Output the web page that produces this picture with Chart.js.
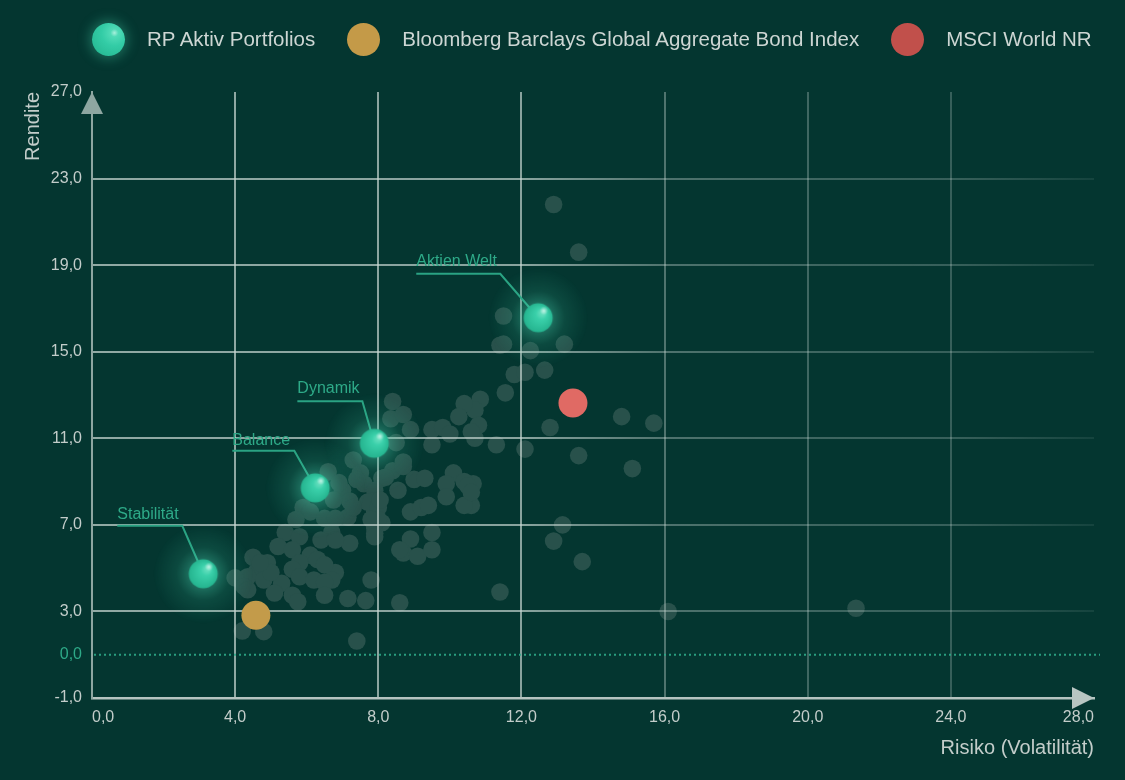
<!DOCTYPE html>
<html lang="de">
<head>
    <meta charset="UTF-8">
    <title>Rendite / Risiko – RP Aktiv Portfolios</title>
    <script src="https://cdn.jsdelivr.net/npm/chart.js"></script>
    <style>
        body {
            margin: 0;
            background-color: #043630;
            font-family: 'Liberation Sans', Arial, sans-serif;
        }
        .wrap {
            position: relative;
            width: 1125px;
            height: 780px;
            overflow: hidden;
        }
        #chart {
            position: absolute;
            left: 0;
            top: 0;
        }
        .legend {
            position: absolute;
            left: 0;
            top: 22px;
            height: 34px;
            padding-left: 92px;
            display: flex;
            align-items: center;
            font-size: 20.5px;
            color: #cdd6d3;
            z-index: 2;
        }
        .legend .item {
            display: flex;
            align-items: center;
            margin-right: 32px;
            white-space: nowrap;
        }
        .legend .dot {
            width: 33px;
            height: 33px;
            border-radius: 50%;
            margin-right: 22px;
        }
        .legend .dot.glow {
            background: radial-gradient(circle at 68% 30%, #a8f0dc 0, #4fdab6 12%, #33cca6 40%, #22b28c 100%);
            box-shadow: 0 0 12px 3px rgba(70, 210, 170, 0.35);
        }
    </style>
</head>
<body>
    <div class="wrap">
        <div class="legend" id="legend"></div>
        <canvas id="chart" width="1125" height="780"></canvas>
    </div>

    <script>
        // RP Aktiv Portfolios
        const portfolioNames = ['Stabilität', 'Balance', 'Dynamik', 'Aktien Welt'];
        const portfolioRisk = [3.11, 6.24, 7.89, 12.47];
        const portfolioReturn = [4.74, 8.71, 10.77, 16.57];

        // Benchmarks
        const bondRisk = [4.58];
        const bondReturn = [2.73];
        const msciRisk = [13.44];
        const msciReturn = [12.63];

        // Vergleichsgruppe (graue Punkte)
        const peerRisk = [
            12.9, 13.6, 11.5, 11.4, 11.5, 12.25, 13.2, 11.8, 12.1, 12.65, 11.55, 10.85, 10.7, 10.8, 10.7,
            11.3, 12.1, 12.8, 14.8, 15.7, 13.6, 15.1, 10.65, 10.6, 13.15, 12.9, 13.7, 11.4, 16.1, 21.35,
            8.4, 10.4, 10.25, 8.35, 8.7, 8.9, 9.5, 9.8, 10.0, 9.5, 10.6, 8.5, 7.3, 8.7, 8.4, 7.5, 7.6,
            8.1, 9.0, 9.3, 10.1, 9.9, 10.4, 10.5, 9.9, 8.55, 10.4, 8.9, 9.2, 9.4, 7.9, 7.0, 7.2, 7.15,
            7.9, 8.1, 6.7, 7.2, 7.9, 8.9, 9.5, 8.7, 9.1, 9.5, 6.8, 6.7, 7.8, 7.15, 7.65, 8.6, 7.4,
            6.6, 6.9, 8.2, 8.7, 7.9, 7.7, 7.3, 5.9, 6.1, 5.7, 6.5, 6.8, 8.0, 8.0, 7.9, 5.4, 5.8, 6.4,
            6.8, 5.2, 5.6, 6.1, 6.3, 4.5, 4.9, 5.8, 6.5, 5.6, 5.8, 6.2, 6.5, 4.6, 4.35, 4.0, 5.3, 5.1,
            5.6, 5.75, 6.5, 8.6, 4.25, 4.2, 4.8, 4.35, 4.8, 5.0,
            7.4, 10.6, 8.05, 7.8, 6.75, 4.7
        ];
        const peerReturn = [
            21.8, 19.6, 16.65, 15.3, 15.35, 15.05, 15.35, 13.95, 14.05, 14.15, 13.1, 12.8, 12.3, 11.6, 11.0,
            10.7, 10.5, 11.5, 12.0, 11.7, 10.2, 9.6, 8.9, 7.9, 7.0, 6.25, 5.3, 3.9, 3.0, 3.15,
            12.7, 12.6, 12.0, 11.9, 12.1, 11.4, 11.4, 11.5, 11.2, 10.7, 11.3, 10.8, 10.0, 9.9, 9.5, 9.4, 8.9,
            9.15, 9.1, 9.15, 9.4, 8.9, 9.0, 8.8, 8.3, 8.6, 7.9, 7.6, 7.8, 7.9, 7.6, 8.6, 8.1, 7.35,
            6.85, 7.1, 6.65, 6.15, 6.6, 6.35, 6.65, 5.7, 5.55, 5.85, 4.8, 4.45, 4.45, 3.6, 3.5, 3.4, 0.95,
            9.45, 8.95, 9.2, 9.7, 8.6, 8.05, 7.8, 7.8, 7.6, 7.25, 7.3, 7.3, 7.8, 7.25, 6.45, 6.65, 6.45, 6.3,
            6.3, 6.0, 5.85, 5.6, 5.4, 5.5, 5.25, 5.25, 5.15, 4.95, 4.6, 4.45, 4.35, 4.85, 4.6, 4.55, 4.3, 3.85,
            3.75, 3.45, 3.75, 5.85, 4.15, 1.65, 1.6, 4.0, 4.45, 4.8,
            9.1, 8.5, 8.15, 7.25, 8.15, 5.25
        ];

        // Achsen
        const xTicks = [0, 4, 8, 12, 16, 20, 24, 28];
        const yTicks = [-1, 0, 3, 7, 11, 15, 19, 23, 27];

        const toPoints = (xs, ys) => xs.map((v, i) => ({x: v, y: ys[i]}));
        const fmt = v => v.toFixed(1).replace('.', ',');

        // y axis of the original: the range -1..3 is stretched so that 0 sits halfway
        class BrokenScale extends Chart.LinearScale {
            toLinear(v) {
                if (v <= 0) return -1 + (v + 1) * 2;
                if (v <= 3) return 1 + v * 2 / 3;
                return v;
            }
            fromLinear(u) {
                if (u <= 1) return (u + 1) / 2 - 1;
                if (u <= 3) return (u - 1) * 3 / 2;
                return u;
            }
            getPixelForValue(value) {
                return super.getPixelForValue(this.toLinear(value));
            }
            getValueForPixel(pixel) {
                return this.fromLinear(super.getValueForPixel(pixel));
            }
        }
        BrokenScale.id = 'broken';
        BrokenScale.defaults = Chart.LinearScale.defaults;
        Chart.register(BrokenScale);

        // glowing sphere used as point style for the portfolios
        function makeSphere(r, glow) {
            const size = glow * 2;
            const c = document.createElement('canvas');
            c.width = size;
            c.height = size;
            const g = c.getContext('2d');
            const m = size / 2;

            let grad = g.createRadialGradient(m, m, r * 0.8, m, m, glow);
            grad.addColorStop(0, 'rgba(80, 215, 180, 0.4)');
            grad.addColorStop(0.4, 'rgba(60, 190, 155, 0.15)');
            grad.addColorStop(1, 'rgba(60, 190, 155, 0)');
            g.fillStyle = grad;
            g.fillRect(0, 0, size, size);

            grad = g.createRadialGradient(m + r * 0.35, m - r * 0.4, 1, m, m, r);
            grad.addColorStop(0, '#6fe2c3');
            grad.addColorStop(0.35, '#3ad0aa');
            grad.addColorStop(1, '#25b48f');
            g.beginPath();
            g.arc(m, m, r, 0, Math.PI * 2);
            g.fillStyle = grad;
            g.fill();

            const hx = m + r * 0.4, hy = m - r * 0.5;
            grad = g.createRadialGradient(hx, hy, 0, hx, hy, r * 0.3);
            grad.addColorStop(0, 'rgba(255, 255, 255, 0.6)');
            grad.addColorStop(1, 'rgba(255, 255, 255, 0)');
            g.fillStyle = grad;
            g.beginPath();
            g.arc(hx, hy, r * 0.3, 0, Math.PI * 2);
            g.fill();
            return c;
        }

        const sphere = makeSphere(14.5, 50);

        let gridGradient = null;
        function gridColor(ctx) {
            const a = ctx.chart.chartArea;
            if (!a) return 'transparent';
            if (!gridGradient) {
                gridGradient = ctx.chart.ctx.createLinearGradient(a.left, 0, a.right + 8, 0);
                gridGradient.addColorStop(0, 'rgba(200, 215, 210, 0.72)');
                gridGradient.addColorStop(0.43, 'rgba(200, 215, 210, 0.68)');
                gridGradient.addColorStop(0.57, 'rgba(200, 215, 210, 0.38)');
                gridGradient.addColorStop(0.72, 'rgba(200, 215, 210, 0.3)');
                gridGradient.addColorStop(0.86, 'rgba(200, 215, 210, 0.26)');
                gridGradient.addColorStop(1, 'rgba(200, 215, 210, 0.08)');
            }
            return gridGradient;
        }

        // leader lines: text x, text y, underline y, underline end x (relative to point)
        const leaderOffsets = [
            [-86, -59, -48, -21],
            [-83, -47, -37, -21],
            [-77, -55, -42, -12],
            [-122, -56, -44, -38]
        ];

        const overlay = {
            id: 'overlay',
            beforeDatasetDraw(chart, args) {
                // coloured points are drawn on top of the grid in afterDraw
                if (args.index > 0) return false;
            },
            afterDraw(chart) {
                const {ctx, chartArea: a, scales: {y}} = chart;
                ctx.save();

                const y0 = y.getPixelForValue(0);
                ctx.strokeStyle = 'rgba(46, 170, 136, 0.9)';
                ctx.lineWidth = 2;
                ctx.setLineDash([2, 3]);
                ctx.beginPath();
                ctx.moveTo(a.left + 2, y0);
                ctx.lineTo(a.right + 6, y0);
                ctx.stroke();
                ctx.setLineDash([]);

                // axis arrows
                ctx.fillStyle = '#8ea6a1';
                ctx.beginPath();
                ctx.moveTo(a.left, a.top);
                ctx.lineTo(a.left - 11, a.top + 22);
                ctx.lineTo(a.left + 11, a.top + 22);
                ctx.fill();
                ctx.fillStyle = '#b8c6c2';
                ctx.beginPath();
                ctx.moveTo(a.right, a.bottom);
                ctx.lineTo(a.right - 22, a.bottom - 11);
                ctx.lineTo(a.right - 22, a.bottom + 11);
                ctx.fill();

                // portfolio labels
                const meta = chart.getDatasetMeta(3);
                ctx.font = '16px "Liberation Sans", Arial, sans-serif';
                ctx.textBaseline = 'middle';
                ctx.textAlign = 'left';
                ctx.strokeStyle = '#2aa383';
                ctx.fillStyle = '#2eaa88';
                ctx.lineWidth = 2;
                meta.data.forEach((p, i) => {
                    const [tx, ty, uy, ex] = leaderOffsets[i];
                    ctx.fillText(portfolioNames[i], p.x + tx, p.y + ty);
                    ctx.beginPath();
                    ctx.moveTo(p.x + tx, p.y + uy);
                    ctx.lineTo(p.x + ex, p.y + uy);
                    ctx.lineTo(p.x, p.y);
                    ctx.stroke();
                });
                ctx.restore();

                [1, 2, 3].forEach(i => chart.getDatasetMeta(i).controller.draw());
            }
        };

        Chart.defaults.font.family = '"Liberation Sans", Arial, sans-serif';
        Chart.defaults.color = '#c3cdca';

        const chart = new Chart(document.getElementById('chart'), {
            type: 'scatter',
            data: {
                datasets: [
                    {
                        label: 'Vergleichsgruppe',
                        data: toPoints(peerRisk, peerReturn),
                        backgroundColor: '#28514b',
                        borderWidth: 0,
                        pointRadius: 8.8
                    },
                    {
                        label: 'Bloomberg Barclays Global Aggregate Bond Index',
                        data: toPoints(bondRisk, bondReturn),
                        backgroundColor: '#c39b4a',
                        borderWidth: 0,
                        pointRadius: 14.5
                    },
                    {
                        label: 'MSCI World NR',
                        data: toPoints(msciRisk, msciReturn),
                        backgroundColor: '#e06a64',
                        borderWidth: 0,
                        pointRadius: 14.5
                    },
                    {
                        label: 'RP Aktiv Portfolios',
                        data: toPoints(portfolioRisk, portfolioReturn),
                        backgroundColor: '#30c9a2',
                        borderWidth: 0,
                        pointRadius: 14.5,
                        pointStyle: sphere
                    }
                ]
            },
            options: {
                responsive: false,
                animation: false,
                events: [],
                layout: {
                    padding: {top: 92, right: 31, bottom: 0, left: 0}
                },
                plugins: {
                    legend: {display: false},
                    tooltip: {enabled: false}
                },
                scales: {
                    x: {
                        type: 'linear',
                        min: 0,
                        max: 28,
                        afterBuildTicks: s => { s.ticks = xTicks.map(v => ({value: v})); },
                        afterFit: s => { s.height = 82; },
                        grid: {
                            z: 1,
                            lineWidth: 2,
                            drawTicks: false,
                            color: c => (c.tick && (c.tick.value === 0 || c.tick.value === 28)) ? 'transparent' : gridColor(c)
                        },
                        border: {display: true, color: '#b6c4c0', width: 2.5, z: 1},
                        ticks: {
                            align: 'inner',
                            padding: 10,
                            font: {size: 16},
                            color: '#c3cdca',
                            callback: v => fmt(v)
                        },
                        title: {
                            display: true,
                            text: 'Risiko (Volatilität)',
                            align: 'end',
                            color: '#c3cdca',
                            font: {size: 20},
                            padding: {top: 0, bottom: 20}
                        }
                    },
                    y: {
                        type: 'broken',
                        min: -1,
                        max: 27,
                        afterBuildTicks: s => { s.ticks = yTicks.map(v => ({value: v})); },
                        afterFit: s => { s.width = 92; },
                        grid: {
                            z: 1,
                            lineWidth: 2,
                            drawTicks: false,
                            color: c => (c.tick && [-1, 0, 27].includes(c.tick.value)) ? 'transparent' : gridColor(c)
                        },
                        border: {display: true, color: '#8ea6a1', width: 2, z: 1},
                        ticks: {
                            padding: 10,
                            font: {size: 16},
                            color: c => (c.tick && c.tick.value === 0) ? '#2eaa88' : '#c3cdca',
                            callback: v => fmt(v)
                        },
                        title: {
                            display: true,
                            text: 'Rendite',
                            align: 'end',
                            color: '#c3cdca',
                            font: {size: 20},
                            padding: {top: 21, bottom: 0}
                        }
                    }
                }
            },
            plugins: [overlay]
        });

        // Legend
        const legendEl = document.getElementById('legend');
        const legendItems = [
            {ds: 3, glow: true},
            {ds: 1, color: '#c49a48'},
            {ds: 2, color: '#c1504b'}
        ];
        legendItems.forEach(item => {
            const el = document.createElement('div');
            el.className = 'item';
            const dot = document.createElement('span');
            dot.className = 'dot' + (item.glow ? ' glow' : '');
            if (item.color) dot.style.background = item.color;
            const txt = document.createElement('span');
            txt.textContent = chart.data.datasets[item.ds].label;
            el.appendChild(dot);
            el.appendChild(txt);
            legendEl.appendChild(el);
        });
    </script>
</body>
</html>
